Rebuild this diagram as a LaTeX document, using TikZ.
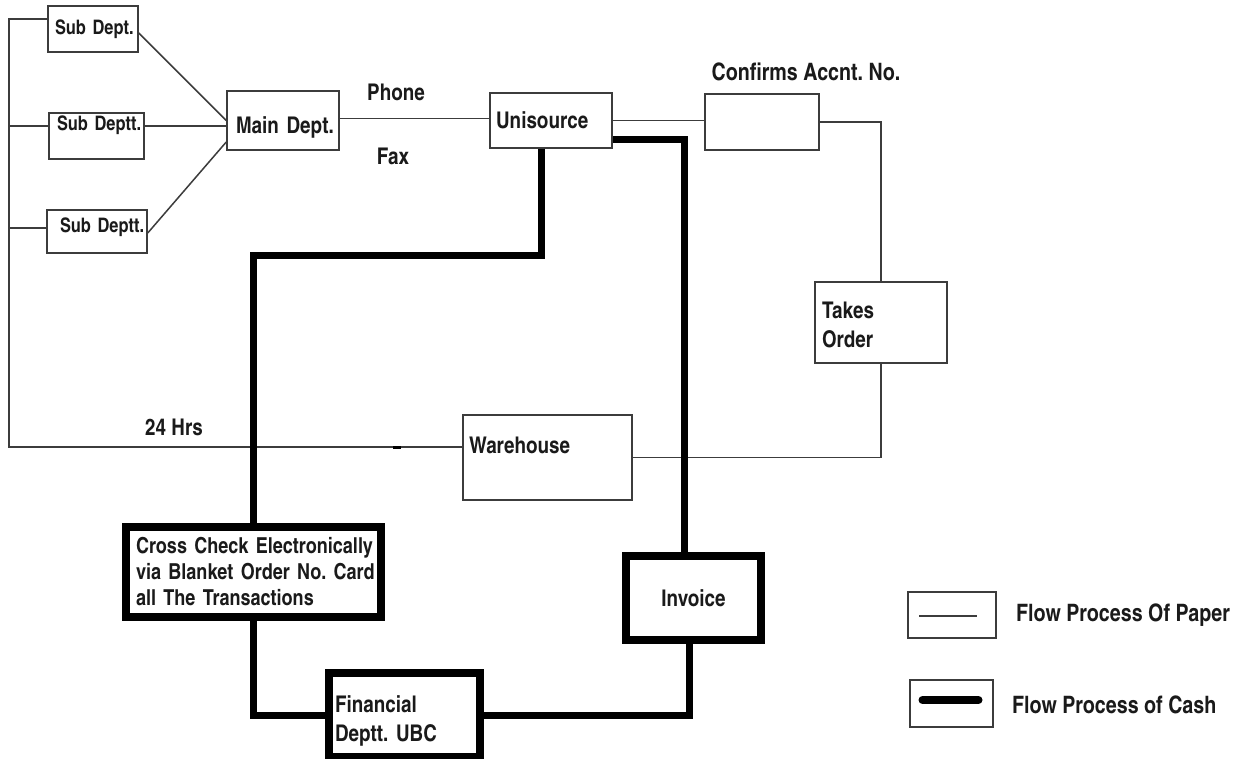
\documentclass[tikz,border=0pt]{standalone}
\usepackage{fontspec}
\setmainfont{texgyreheroscn-bold.otf}
\usetikzlibrary{
  arrows.meta,
  positioning,
  calc
}
\frenchspacing
\hyphenpenalty=10000
\hbadness=10000
\hfuzz=200pt
\definecolor{paperline}{HTML}{3C3C3C}
\definecolor{inktext}{HTML}{1A1A1A}
\newcommand{\lblsize}{\fontsize{23}{29}\selectfont}
\newcommand{\subsize}{\fontsize{20}{24}\selectfont}
\tikzset{
  paperbox/.style = {draw=paperline, line width=1.5pt, rectangle,
                     inner sep=0pt, align=left, text=inktext,
                     font=\lblsize},
  cashbox/.style  = {draw=black, line width=8pt, rectangle,
                     inner sep=0pt, align=left, text=inktext,
                     font=\lblsize},
  subbox/.style   = {paperbox, font=\subsize},
  paper/.style    = {draw=paperline, line width=1.5pt},
  cash/.style     = {draw=black, line width=7pt},
  tag/.style      = {font=\lblsize, text=inktext, inner sep=0pt},
}

\begin{document}
\begin{tikzpicture}[x=1pt, y=-1pt]
\useasboundingbox[fill=white] (0,0) rectangle (1240,759);

% departments
\node[subbox, minimum width=90pt, minimum height=46pt, text width=76pt]
   (sub1) at (93,29) {Sub~Dept.};
\node[subbox, minimum width=95pt, minimum height=46pt, text width=79pt,
      text depth=25pt] (sub2) at (96.5,136) {Sub~Deptt.};
\node[subbox, minimum width=100pt, minimum height=43pt, text width=74pt,
      text depth=12pt] (sub3) at (97,231.5) {Sub~Deptt.};
\node[paperbox, minimum width=112pt, minimum height=59pt, text width=94pt,
      text height=30pt] (main) at (283,120.5) {Main~Dept.};

\node[paperbox, minimum width=122pt, minimum height=55pt, text width=110pt]
   (uni) at (551,120.5) {Unisource};
\node[paperbox, minimum width=114pt, minimum height=56pt] (conf) at (762,122) {};
\node[paperbox, minimum width=132pt, minimum height=81pt, text width=118pt,
      text height=22pt] (takes) at (881,322.5) {Takes\\Order};
\node[paperbox, minimum width=169pt, minimum height=85pt, text width=157pt,
      text depth=25pt] (wh) at (547.5,457.5) {Warehouse};

% cash side
\node[cashbox, minimum width=255pt, minimum height=90pt, text width=235pt,
      font=\fontsize{22}{26}\selectfont] (cc) at (253.5,572)
   {Cross~Check~Electronically\\via~Blanket~Order~No.~Card\\all~The~Transactions};
\node[cashbox, minimum width=151pt, minimum height=84pt, text width=139pt,
      text height=28pt] (fin) at (404.5,715) {Financial\\Deptt.~UBC};
\node[cashbox, minimum width=135pt, minimum height=84pt, align=center]
   (inv) at (693.5,598) {Invoice};

% labels
\node[tag, font=\fontsize{24}{29}\selectfont] (conflbl) at (806,72) {Confirms Accnt. No.};
\node[tag] (phone) at (396,92) {Phone};
\node[tag] (fax) at (393,156) {Fax};
\node[tag] (hrs) at (174,427) {24 Hrs};

% paper flow
\coordinate (ttop) at (9,19);
\coordinate (tmid) at (9,126);
\coordinate (tlow) at (9,228);
\coordinate (tbot) at (9,447);
\coordinate (tick) at (397,447);
\draw[paper] (ttop -| sub1.west) -- (ttop) -- (tbot) -- (tbot -| wh.west);
\draw[paper] (tmid) -- (tmid -| sub2.west);
\draw[paper] (tlow) -- (tlow -| sub3.west);
\draw[line width=3pt, black] ([xshift=-4pt]tick) -- ([xshift=4pt]tick);

\draw[paper] ([yshift=-4pt]sub1.east) -- (main.west);
\draw[paper] (sub2.east |- tmid) -- (main.west |- tmid);
\draw[paper] ([yshift=-1.5pt]sub3.east) -- ([yshift=-21.5pt]main.west);

\draw[paper] ([yshift=2pt]main.east) -- ([yshift=2pt]uni.west);
\draw[paper] (uni.east) -- (uni.east -| conf.west);
\draw[paper] (conf.east) -| (takes.north);
\draw[paper] (takes.south) |- (wh.east);

% cash flow
\draw[cash] ([xshift=-10pt]uni.south) -- ++(0,107) -| (cc.north);
\draw[cash] (cc.south) |- (fin.west);
\draw[cash] (fin.east) -| ([xshift=-4.5pt]inv.south);
\draw[cash] ([xshift=-9.5pt]inv.north) |- ([yshift=-19.5pt]uni.east);

% legend
\node[paperbox, minimum width=88pt, minimum height=46pt] (lgpaper) at (952,615) {};
\node[paperbox, minimum width=83pt, minimum height=47pt] (lgcash) at (951.5,703.5) {};
\draw[paper] ([xshift=-33pt,yshift=-1pt]lgpaper.center) -- ([xshift=25pt,yshift=-1pt]lgpaper.center);
\draw[cash, line width=8pt, line cap=round]
   ([xshift=-29pt,yshift=3.5pt]lgcash.center) -- ([xshift=27pt,yshift=3.5pt]lgcash.center);
\node[tag, anchor=west, font=\fontsize{24}{29}\selectfont] (lgpapertxt) at (1016,615) {Flow Process Of Paper};
\node[tag, anchor=west, font=\fontsize{24}{29}\selectfont] (lgcashtxt) at (1012,705) {Flow Process of Cash};
\end{tikzpicture}
\end{document}
